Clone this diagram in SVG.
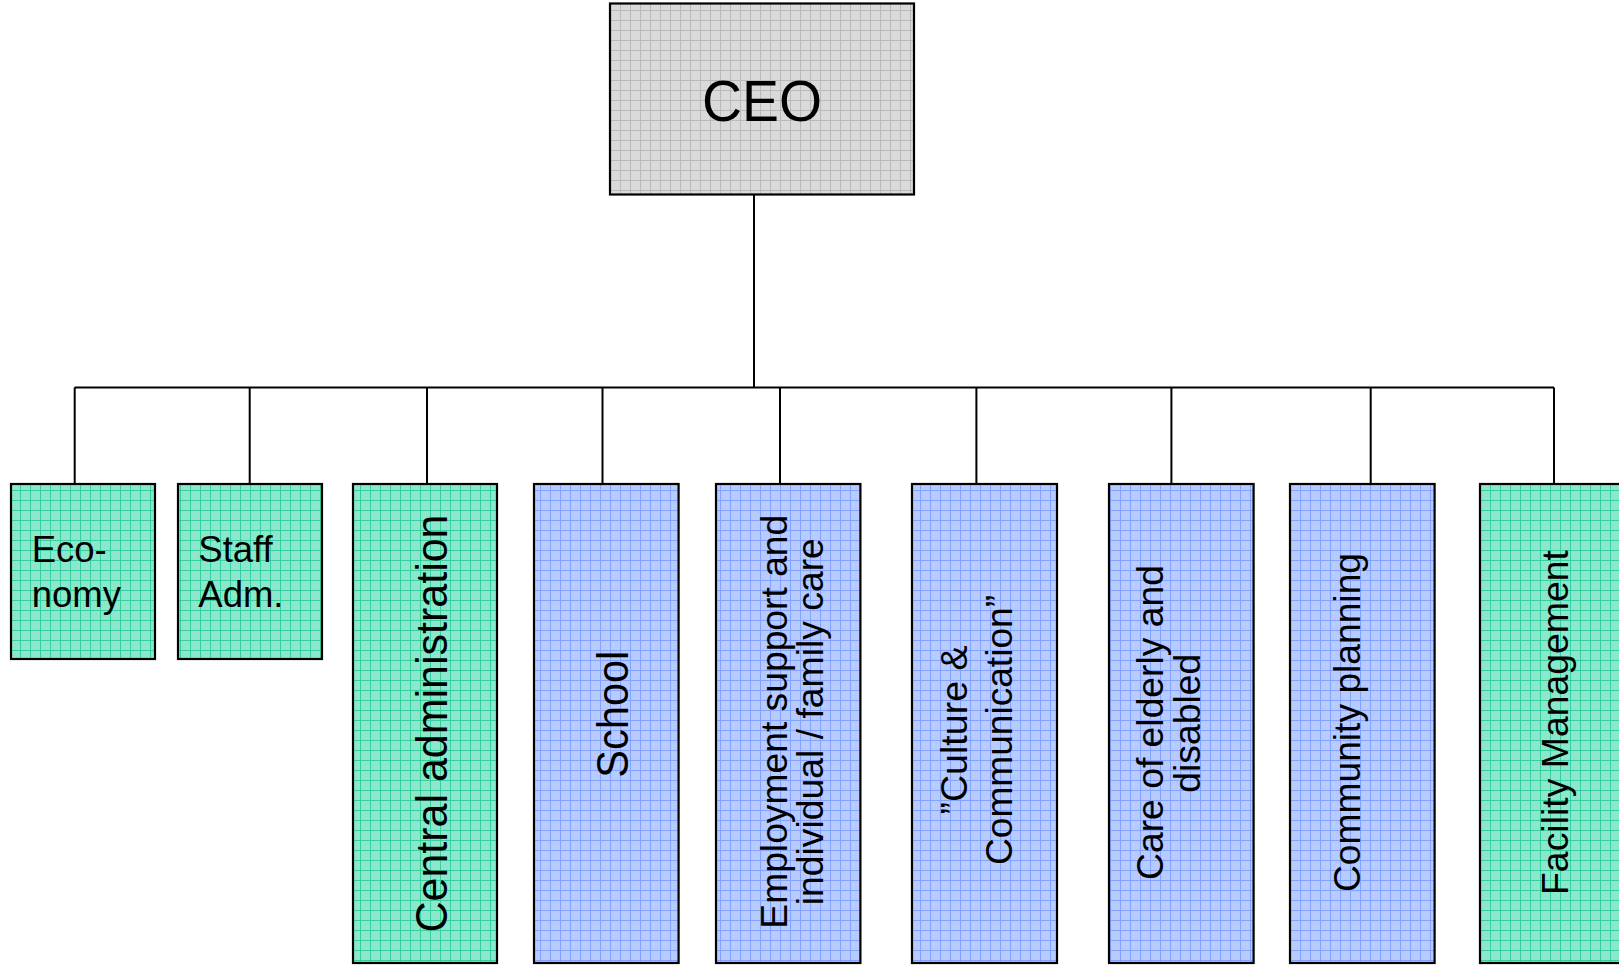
<svg xmlns="http://www.w3.org/2000/svg" width="1619" height="970" viewBox="0 0 1619 970">
<style>
text{font-family:"Liberation Sans",Arial,sans-serif;fill:#000}
.box{stroke:#000;stroke-width:2.2}
.g{fill:url(#pg)}
.b{fill:url(#pb)}
.c{fill:url(#pc)}
.conn{stroke:#000;stroke-width:2;fill:none}
.v{text-anchor:middle}
</style>
<defs>
<pattern id="pg" width="10" height="10" patternUnits="userSpaceOnUse">
<rect width="10" height="10" fill="#8de7cd"/>
<path d="M0 0.5H10M0.5 0V10" stroke="#36d0a0" stroke-width="1"/>
</pattern>
<pattern id="pb" width="10" height="10" patternUnits="userSpaceOnUse">
<rect width="10" height="10" fill="#b7cbff"/>
<path d="M0 0.5H10M0.5 0V10" stroke="#83a3ff" stroke-width="1"/>
</pattern>
<pattern id="pc" width="10" height="10" patternUnits="userSpaceOnUse">
<rect width="10" height="10" fill="#dadada"/>
<path d="M0 0.5H10M0.5 0V10" stroke="#bababa" stroke-width="1"/>
</pattern>
</defs>
<rect width="1619" height="970" fill="#fff"/>
<g id="connectors">
<path class="conn" d="M754 195V387.5M74.5 387.5H1554M74.7 387.5V484M249.7 387.5V484M427 387.5V484M602.5 387.5V484M780 387.5V484M976.4 387.5V484M1171.4 387.5V484M1370.7 387.5V484M1554 387.5V484"/>
</g>
<g id="ceo">
<rect class="box c" x="610" y="3.5" width="304" height="191"/>
<text x="762" y="121" font-size="57" text-anchor="middle" textLength="120" lengthAdjust="spacingAndGlyphs">CEO</text>
</g>
<g id="economy">
<rect class="box g" x="11" y="484" width="144" height="175"/>
<text x="31.7" y="561.7" font-size="36.5">Eco-</text>
<text x="31.7" y="606.7" font-size="36.5">nomy</text>
</g>
<g id="staff">
<rect class="box g" x="178" y="484" width="144" height="175"/>
<text x="198.3" y="561.7" font-size="36.5">Staff</text>
<text x="198.3" y="606.7" font-size="36.5">Adm.</text>
</g>
<g id="central">
<rect class="box g" x="353" y="484" width="144" height="479"/>
<text class="v" transform="translate(446.7 723.5) rotate(-90)" font-size="45" textLength="418" lengthAdjust="spacingAndGlyphs">Central administration</text>
</g>
<g id="school">
<rect class="box b" x="534" y="484" width="144.6" height="479"/>
<text class="v" transform="translate(627.7 714.2) rotate(-90)" font-size="45" textLength="127" lengthAdjust="spacingAndGlyphs">School</text>
</g>
<g id="employment">
<rect class="box b" x="716" y="484" width="144.4" height="479"/>
<text class="v" transform="translate(786.7 721.7) rotate(-90)" font-size="37.5" textLength="414" lengthAdjust="spacingAndGlyphs">Employment support and</text>
<text class="v" transform="translate(822.7 721.7) rotate(-90)" font-size="37.5" textLength="367" lengthAdjust="spacingAndGlyphs">individual / family care</text>
</g>
<g id="culture">
<rect class="box b" x="912" y="484" width="145" height="479"/>
<text class="v" transform="translate(966.7 730) rotate(-90)" font-size="37.5" textLength="169" lengthAdjust="spacingAndGlyphs">”Culture &amp;</text>
<text class="v" transform="translate(1011.7 730) rotate(-90)" font-size="37.5" textLength="270" lengthAdjust="spacingAndGlyphs">Communication”</text>
</g>
<g id="care">
<rect class="box b" x="1109" y="484" width="144.6" height="479"/>
<text class="v" transform="translate(1163.3 722.5) rotate(-90)" font-size="37.5" textLength="315" lengthAdjust="spacingAndGlyphs">Care of elderly and</text>
<text class="v" transform="translate(1200 723.3) rotate(-90)" font-size="37.5" textLength="139" lengthAdjust="spacingAndGlyphs">disabled</text>
</g>
<g id="community">
<rect class="box b" x="1290" y="484" width="144.6" height="479"/>
<text class="v" transform="translate(1360 722.5) rotate(-90)" font-size="37.5" textLength="339" lengthAdjust="spacingAndGlyphs">Community planning</text>
</g>
<g id="facility">
<rect class="box g" x="1480" y="484" width="145" height="479"/>
<text class="v" transform="translate(1568.3 722.5) rotate(-90)" font-size="37.5" textLength="345" lengthAdjust="spacingAndGlyphs">Facility Management</text>
</g>
</svg>
